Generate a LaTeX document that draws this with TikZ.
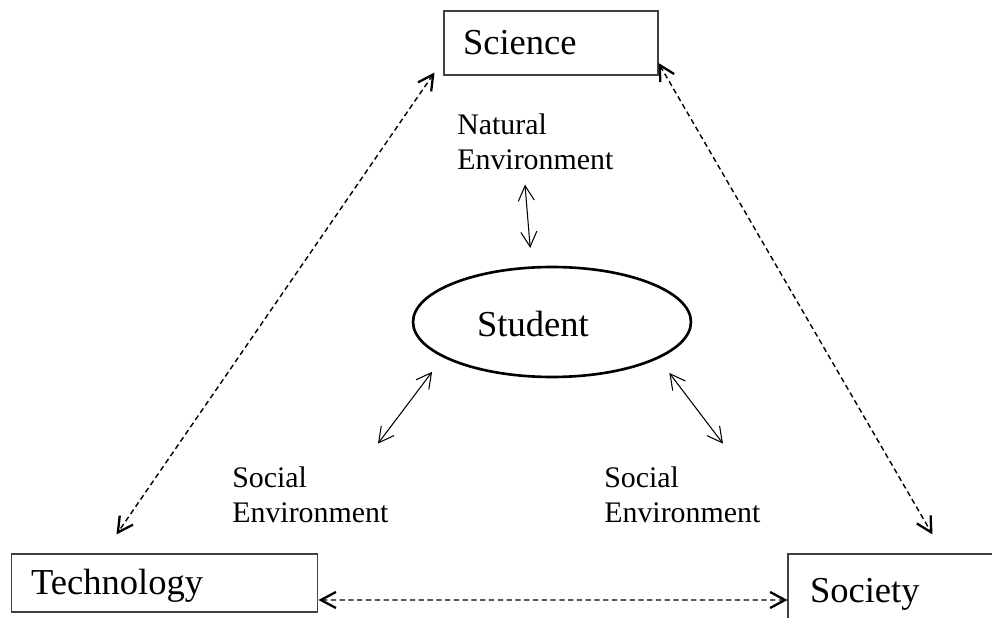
\documentclass[tikz,border=0pt]{standalone}
\usepackage{fontspec}
\setmainfont{Liberation Serif}
\usetikzlibrary{arrows.meta,shapes.geometric}
\begin{document}
\begin{tikzpicture}[x=0.02cm,y=-0.02cm,
  box/.style={draw=black!75,line width=0.6pt,rectangle,align=left,
    text height=0.48cm,text depth=0cm,font=\fontsize{20.8}{25}\selectfont},
  envtext/.style={align=left,inner sep=0pt,font=\fontsize{17}{19.9}\selectfont},
  link/.style={<->,line width=0.6pt,>={Straight Barb[length=0.3cm,width=0.32cm]}},
  dlink/.style={<->,line width=0.8pt,dash pattern=on 3pt off 2pt,
    >={Straight Barb[length=0.3cm,width=0.32cm,line width=1.3pt]}}]
\useasboundingbox (0,0) rectangle (992,618);
\clip (0,0) rectangle (992,618);

\node[box,minimum width=4.28cm,minimum height=1.28cm,inner xsep=0.38cm,text width=3.52cm] (science) at (551,43) {Science};
\node[box,minimum width=6.14cm,minimum height=1.16cm,inner xsep=0.4cm,text width=5.34cm] (technology) at (164.5,583) {Technology};
\node[box,minimum width=4.4cm,minimum height=1.48cm,inner xsep=0.44cm,text width=3.52cm] (society) at (898,591) {Society};

\node[draw,ellipse,line width=1.5pt,minimum width=5.56cm,minimum height=2.2cm,inner sep=0pt,
  label={[xshift=-0.38cm,yshift=-0.05cm,font=\fontsize{20.8}{25}\selectfont]center:Student}] (student) at (552,322) {};

\node[envtext,anchor=north west] (natural) at (457,113) {Natural\\Environment};
\node[envtext,anchor=north west] (socialL) at (232,466.6) {Social\\Environment};
\node[envtext,anchor=north west] (socialR) at (604,466.6) {Social\\Environment};

\draw[link,shorten >=0.37cm] ([shift={(1.36cm,-0.3cm)}]natural.south west) -- (student.110.6);
\draw[link,shorten <=0.36cm] (student.198.7) -- ([shift={(2.92cm,0.46cm)}]socialL.north west);
\draw[link,shorten <=0.36cm] (student.341.2) -- ([shift={(2.38cm,0.46cm)}]socialR.north west);

\draw[dlink] ([shift={(-0.18cm,0.06cm)}]science.south west) -- ([shift={(2.12cm,0.38cm)}]technology.north west);
\draw[dlink] ([yshift=-0.4cm]science.east) -- ([shift={(2.9cm,0.38cm)}]society.north west);
\draw[dlink] ([yshift=-0.34cm]technology.east) -- ([yshift=-0.18cm]society.west);
\end{tikzpicture}
\end{document}
